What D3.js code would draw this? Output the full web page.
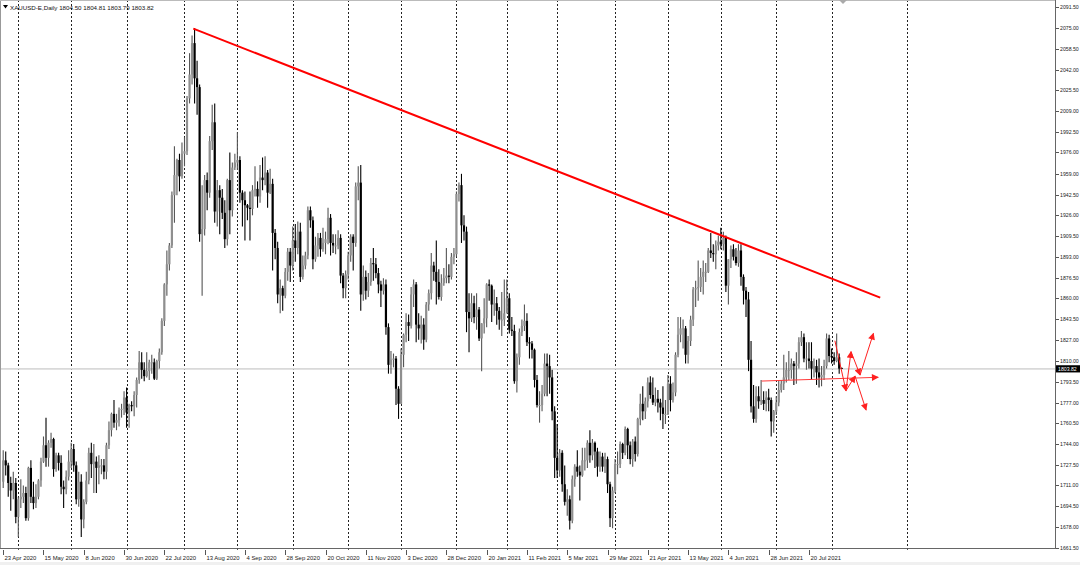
<!DOCTYPE html>
<html><head><meta charset="utf-8">
<script src="https://cdn.jsdelivr.net/npm/d3@7"></script>
<style>
html,body{margin:0;padding:0;background:#fff;}
svg{display:block;}
text{font-family:"Liberation Sans",Arial,sans-serif;}
</style></head><body>
<svg id="chart" width="1080" height="565"></svg>
<script>
// ---------------- data ----------------
const symbolLabel = "XAUUSD-E,Daily";
const headerOHLC = ["1804.50", "1804.81", "1803.79", "1803.82"];
const lastPrice = 1803.82;
const startDate = "2020-04-23";
const holidays = ["2020-12-25", "2021-01-01", "2021-04-02"];

const opens = [
1714,1731,1727,1713,1707,1713,1686,1700,1702,1705,
1685,1725,1702,1697,1702,1715,1730,1743,1733,1745,
1748,1724,1735,1729,1710,1708,1718,1730,1740,1727,
1700,1714,1684,1698,1715,1737,1728,1730,1725,1727,
1727,1722,1743,1755,1768,1761,1763,1771,1772,1781,
1769,1775,1774,1783,1795,1809,1803,1798,1802,1809,
1809,1796,1810,1817,1842,1871,1887,1902,1942,1958,
1970,1957,1975,1977,2019,2038,2063,2035,2028,1911,
1915,1954,1944,1985,2000,1929,1946,1940,1928,1907,
1954,1930,1964,1968,1970,1944,1938,1934,1932,1931,
1946,1947,1941,1956,1954,1960,1944,1951,1912,1900,
1863,1868,1862,1881,1897,1886,1906,1900,1913,1877,
1886,1894,1930,1922,1891,1902,1908,1899,1904,1907,
1924,1904,1902,1902,1908,1878,1868,1879,1894,1909,
1904,1949,1952,1863,1877,1866,1873,1888,1887,1880,
1871,1866,1871,1837,1807,1811,1812,1788,1776,1815,
1831,1841,1838,1863,1871,1839,1836,1839,1827,1855,
1864,1886,1881,1873,1861,1872,1876,1878,1877,1893,
1895,1943,1950,1918,1913,1849,1844,1856,1845,1851,
1828,1840,1844,1871,1870,1855,1856,1850,1843,1843,
1848,1860,1835,1834,1794,1813,1833,1838,1842,1825,
1824,1819,1795,1775,1775,1784,1808,1806,1797,1770,
1733,1723,1737,1712,1698,1700,1683,1716,1726,1722,
1719,1731,1731,1745,1735,1745,1738,1726,1734,1726,
1732,1712,1685,1707,1728,1728,1744,1737,1756,1743,
1732,1746,1736,1764,1776,1770,1778,1793,1783,1777,
1780,1777,1773,1768,1768,1792,1779,1785,1815,1831,
1836,1836,1815,1826,1843,1867,1868,1869,1877,1881,
1881,1898,1896,1895,1902,1905,1903,1908,1870,1891,
1899,1893,1888,1898,1877,1866,1859,1811,1774,1764,
1782,1778,1779,1776,1781,1779,1762,1770,1777,1787,
1792,1797,1803,1803,1808,1806,1808,1825,1829,1812,
1812,1810,1804,1806,1801,1797,1799,1806,1828,1814,
1813,1810,1813,1804.50];

const highs = [
1739,1738,1729,1718,1722,1717,1702,1716,1711,1710,
1726,1731,1714,1712,1716,1733,1750,1765,1747,1753,
1749,1737,1737,1735,1715,1723,1739,1745,1744,1730,
1722,1720,1700,1722,1741,1745,1744,1734,1735,1732,
1732,1745,1762,1769,1779,1768,1773,1776,1786,1789,
1776,1778,1786,1797,1818,1817,1809,1817,1811,1815,
1812,1811,1820,1844,1872,1898,1904,1945,1981,1971,
1975,1984,1988,2021,2055,2069,2075,2049,2030,1950,
1958,1960,1989,2014,2015,1954,1950,1947,1938,1955,
1976,1968,1975,1992,1973,1946,1945,1935,1945,1950,
1965,1953,1966,1972,1973,1962,1963,1955,1915,1905,
1875,1870,1884,1900,1900,1917,1919,1921,1920,1894,
1897,1933,1933,1925,1909,1912,1912,1916,1913,1932,
1927,1911,1911,1914,1911,1880,1882,1897,1911,1911,
1952,1965,1966,1886,1882,1880,1892,1900,1892,1884,
1874,1876,1875,1840,1818,1816,1814,1790,1820,1832,
1848,1847,1869,1875,1873,1848,1846,1844,1857,1867,
1896,1889,1906,1883,1879,1884,1900,1887,1896,1900,
1945,1952,1959,1926,1917,1864,1864,1862,1864,1853,
1840,1860,1872,1875,1871,1867,1861,1853,1865,1875,
1875,1864,1845,1839,1816,1836,1843,1855,1848,1829,
1826,1820,1799,1786,1791,1816,1816,1815,1803,1774,
1760,1740,1739,1727,1708,1703,1719,1728,1739,1727,
1741,1741,1747,1755,1748,1746,1741,1738,1737,1737,
1734,1714,1710,1732,1738,1746,1745,1758,1757,1746,
1748,1750,1765,1784,1790,1781,1797,1798,1797,1789,
1787,1780,1790,1779,1799,1798,1793,1817,1845,1845,
1843,1838,1830,1846,1869,1874,1890,1884,1890,1888,
1900,1912,1903,1906,1910,1916,1913,1910,1891,1902,
1903,1900,1903,1903,1879,1869,1865,1826,1791,1790,
1790,1795,1786,1786,1788,1781,1771,1782,1795,1795,
1815,1809,1818,1812,1810,1817,1829,1834,1832,1825,
1825,1825,1812,1811,1812,1806,1811,1832,1831,1820,
1817,1832,1816,1804.81];

const lows = [
1709,1719,1702,1691,1700,1681,1670,1693,1697,1683,
1683,1697,1692,1693,1700,1710,1729,1726,1726,1741,
1718,1722,1723,1704,1693,1704,1715,1725,1722,1696,
1694,1670,1677,1696,1712,1717,1705,1705,1712,1720,
1716,1716,1740,1750,1757,1755,1758,1765,1767,1757,
1757,1770,1766,1773,1792,1796,1794,1797,1795,1800,
1795,1795,1804,1815,1838,1862,1882,1900,1920,1942,
1945,1955,1965,1974,2015,2030,2015,2006,1905,1862,
1910,1930,1940,1978,1920,1917,1911,1923,1900,1902,
1911,1925,1962,1962,1936,1917,1906,1922,1906,1926,
1941,1932,1936,1946,1950,1932,1943,1882,1891,1856,
1848,1850,1860,1874,1873,1882,1889,1895,1873,1875,
1883,1891,1916,1883,1889,1893,1893,1897,1895,1903,
1894,1896,1895,1899,1872,1860,1860,1875,1889,1882,
1901,1938,1850,1858,1859,1861,1870,1874,1876,1864,
1853,1863,1831,1800,1800,1805,1775,1764,1776,1805,
1825,1826,1836,1853,1825,1827,1824,1819,1825,1850,
1859,1874,1855,1859,1858,1870,1872,1872,1875,1887,
1893,1937,1904,1906,1833,1817,1841,1840,1835,1826,
1802,1832,1837,1858,1841,1846,1839,1835,1830,1838,
1848,1832,1830,1792,1785,1807,1830,1834,1822,1812,
1812,1789,1773,1761,1770,1782,1782,1784,1763,1717,
1717,1718,1706,1695,1687,1676,1681,1710,1718,1699,
1718,1723,1725,1729,1731,1725,1718,1722,1722,1721,
1705,1678,1677,1705,1720,1725,1732,1735,1732,1728,
1726,1730,1734,1759,1763,1764,1773,1780,1775,1774,
1769,1763,1756,1760,1767,1770,1777,1782,1813,1825,
1820,1808,1808,1822,1838,1853,1858,1865,1863,1873,
1880,1892,1889,1883,1898,1899,1898,1865,1855,1884,
1890,1886,1885,1870,1855,1845,1802,1769,1761,1761,
1772,1775,1771,1770,1770,1750,1753,1767,1774,1785,
1787,1793,1795,1796,1791,1792,1804,1822,1809,1803,
1804,1795,1797,1791,1789,1790,1795,1804,1809,1808,
1807,1809,1800,1803.79];

const closes = [
1731,1727,1713,1707,1713,1686,1700,1702,1705,1685,
1725,1702,1697,1702,1715,1730,1743,1733,1745,1748,
1724,1735,1729,1710,1708,1718,1730,1740,1727,1700,
1714,1684,1698,1715,1737,1728,1730,1725,1727,1727,
1722,1743,1755,1768,1761,1763,1771,1772,1781,1769,
1775,1774,1783,1795,1809,1803,1798,1802,1809,1809,
1796,1810,1817,1842,1871,1887,1902,1942,1958,1970,
1957,1975,1977,2019,2038,2063,2035,2028,1911,1915,
1954,1944,1985,2000,1929,1946,1940,1928,1907,1954,
1930,1964,1968,1970,1944,1938,1934,1932,1931,1946,
1947,1941,1956,1954,1960,1944,1951,1912,1900,1863,
1868,1862,1881,1897,1886,1906,1900,1913,1877,1886,
1894,1930,1922,1891,1902,1908,1899,1904,1907,1924,
1904,1902,1902,1908,1878,1868,1879,1894,1909,1904,
1949,1952,1863,1877,1866,1873,1888,1887,1880,1871,
1866,1871,1837,1807,1811,1812,1788,1776,1815,1831,
1841,1838,1863,1871,1839,1836,1839,1827,1855,1864,
1886,1881,1873,1861,1872,1876,1878,1877,1893,1895,
1943,1950,1918,1913,1849,1844,1856,1845,1851,1828,
1840,1844,1871,1870,1855,1856,1850,1843,1843,1848,
1860,1835,1834,1794,1813,1833,1838,1842,1825,1824,
1819,1795,1775,1775,1784,1808,1806,1797,1770,1733,
1723,1737,1712,1698,1700,1683,1716,1726,1722,1719,
1731,1731,1745,1735,1745,1738,1726,1734,1726,1732,
1712,1685,1707,1728,1728,1744,1737,1756,1743,1732,
1746,1736,1764,1776,1770,1778,1793,1783,1777,1780,
1777,1773,1768,1768,1792,1779,1785,1815,1831,1836,
1836,1815,1826,1843,1867,1868,1869,1877,1881,1881,
1898,1896,1895,1902,1905,1903,1908,1870,1891,1899,
1893,1888,1898,1877,1866,1859,1811,1774,1764,1782,
1778,1779,1776,1781,1779,1762,1770,1777,1787,1792,
1797,1803,1803,1808,1806,1808,1825,1829,1812,1812,
1810,1804,1806,1801,1797,1799,1806,1828,1814,1813,
1810,1813,1804,1803.82];

const dateTickLabels = ["23 Apr 2020","15 May 2020","8 Jun 2020","30 Jun 2020","22 Jul 2020",
  "13 Aug 2020","4 Sep 2020","28 Sep 2020","20 Oct 2020","11 Nov 2020","3 Dec 2020",
  "28 Dec 2020","20 Jan 2021","11 Feb 2021","5 Mar 2021","29 Mar 2021","21 Apr 2021",
  "13 May 2021","4 Jun 2021","28 Jun 2021","20 Jul 2021"];

const priceTicks = [2091.50,2075.00,2058.50,2042.00,2025.50,2009.00,1992.50,1976.00,1959.00,
  1942.50,1926.00,1909.50,1893.00,1876.50,1860.00,1843.50,1827.00,1810.00,1793.50,1777.00,
  1760.50,1744.00,1727.50,1711.00,1694.50,1678.00,1661.50];

// grid line for the next (future) month, in bar units
const futureGridBars = [359];

// drawn objects, anchored in [bar index, price]
const trendLine = [[75.5, 2074.5], [348.3, 1860.5]];
const levelArrow = [[301.2, 1794.1], [347.5, 1797.1]];
const scenarioArrows = [
  [[330.3, 1826.2], [334.7, 1786.4]],
  [[334.7, 1786.4], [336.7, 1817.5]],
  [[336.7, 1817.5], [340.3, 1798.9]],
  [[340.3, 1798.9], [345.6, 1832.1]],
  [[334.7, 1786.4], [338.3, 1798.1]],
  [[338.3, 1798.1], [342.7, 1771.0]]
];

// ---------------- build ----------------
const parse = d3.timeParse("%Y-%m-%d");
const fmtISO = d3.timeFormat("%Y-%m-%d");
const fmtLabel = d3.timeFormat("%-d %b %Y");
const dates = [];
let cur = parse(startDate);
while (dates.length < closes.length) {
  const wd = cur.getDay();
  if (wd !== 0 && wd !== 6 && !holidays.includes(fmtISO(cur))) dates.push(cur);
  cur = d3.timeDay.offset(cur, 1);
}
const bars = dates.map((dt, i) => ({i, date: dt, o: opens[i], h: highs[i], l: lows[i], c: closes[i]}));

const svg = d3.select("#chart");
const plotRight = 1055, plotBottom = 548;

const x = d3.scaleLinear().domain([0, bars.length - 1]).range([3.2, 841.7]);
const y = d3.scaleLinear().domain([1661.5, 2091.5]).range([547.7, 7.3]);

svg.append("rect").attr("x", 0).attr("y", 0).attr("width", 1080).attr("height", 565).attr("fill", "#fff");
svg.append("rect").attr("x", 0).attr("y", 562).attr("width", 1080).attr("height", 3).attr("fill", "#f0f0f0");

// month grid
const monthStarts = bars.filter((b, i) => i > 0 && b.date.getMonth() !== bars[i - 1].date.getMonth()).map(b => b.i)
  .concat(futureGridBars);
svg.append("g").selectAll("line").data(monthStarts).join("line")
  .attr("x1", d => Math.round(x(d)) + 0.5).attr("x2", d => Math.round(x(d)) + 0.5)
  .attr("y1", 0).attr("y2", plotBottom)
  .attr("stroke", "#222").attr("stroke-width", 1).attr("stroke-dasharray", "2,2");

// bid line
svg.append("line").attr("x1", 0).attr("x2", plotRight)
  .attr("y1", y(lastPrice)).attr("y2", y(lastPrice))
  .attr("stroke", "#d9d9d9").attr("stroke-width", 1.6);

// candles
const g = svg.append("g");
g.selectAll("line.wick").data(bars).join("line").attr("class", "wick")
  .attr("x1", d => x(d.i)).attr("x2", d => x(d.i))
  .attr("y1", d => y(d.h)).attr("y2", d => y(d.l))
  .attr("stroke", d => d.c >= d.o ? "#555" : "#000").attr("stroke-width", 1.1);
g.selectAll("rect.body").data(bars).join("rect").attr("class", "body")
  .attr("x", d => x(d.i) - 1.1).attr("width", 2.2)
  .attr("y", d => y(Math.max(d.o, d.c)))
  .attr("height", d => Math.max(1, Math.abs(y(d.o) - y(d.c))))
  .attr("fill", d => d.c >= d.o ? "#8f8f8f" : "#000");

// arrow marker
const defs = svg.append("defs");
defs.append("marker").attr("id", "arr").attr("viewBox", "0 0 10 10")
  .attr("refX", 9).attr("refY", 5).attr("markerWidth", 8).attr("markerHeight", 7)
  .attr("markerUnits", "userSpaceOnUse").attr("orient", "auto")
  .append("path").attr("d", "M0,0 L10,5 L0,10 Z").attr("fill", "#ff2020");

// trend line
svg.append("line")
  .attr("x1", x(trendLine[0][0])).attr("y1", y(trendLine[0][1]))
  .attr("x2", x(trendLine[1][0])).attr("y2", y(trendLine[1][1]))
  .attr("stroke", "#ff0000").attr("stroke-width", 2);

// level arrow
svg.append("line")
  .attr("x1", x(levelArrow[0][0])).attr("y1", y(levelArrow[0][1]))
  .attr("x2", x(levelArrow[1][0])).attr("y2", y(levelArrow[1][1]))
  .attr("stroke", "#ff3a3a").attr("stroke-width", 1).attr("marker-end", "url(#arr)");

svg.append("g").selectAll("line").data(scenarioArrows).join("line")
  .attr("x1", d => x(d[0][0])).attr("y1", d => y(d[0][1]))
  .attr("x2", d => x(d[1][0])).attr("y2", d => y(d[1][1]))
  .attr("stroke", "#ff2020").attr("stroke-width", 1).attr("marker-end", "url(#arr)");

// frame
svg.append("line").attr("x1", 0.5).attr("x2", 0.5).attr("y1", 0).attr("y2", plotBottom).attr("stroke", "#999");
svg.append("line").attr("x1", 0).attr("x2", plotRight).attr("y1", 0.5).attr("y2", 0.5).attr("stroke", "#bbb");
svg.append("line").attr("x1", plotRight + 0.5).attr("x2", plotRight + 0.5).attr("y1", 0).attr("y2", plotBottom + 1).attr("stroke", "#666");
svg.append("line").attr("x1", 0).attr("x2", plotRight + 1).attr("y1", plotBottom + 0.5).attr("y2", plotBottom + 0.5).attr("stroke", "#666");

// shift marker
svg.append("path").attr("d", "M839,0 L847,0 L843,4 Z").attr("fill", "#aaa");

// price axis
const pa = svg.append("g");
priceTicks.forEach(v => {
  const yy = Math.round(y(v)) + 0.5;
  pa.append("line").attr("x1", plotRight + 1).attr("x2", plotRight + 4).attr("y1", yy).attr("y2", yy).attr("stroke", "#555");
  pa.append("text").attr("x", 1060).attr("y", yy + 1.9).attr("font-size", 5.2).attr("fill", "#222").text(v.toFixed(2));
});
// current price box
pa.append("rect").attr("x", plotRight + 1).attr("y", y(lastPrice) - 3.6).attr("width", 25).attr("height", 7.2).attr("fill", "#000");
pa.append("text").attr("x", 1058).attr("y", y(lastPrice) + 1.9).attr("font-size", 5.2).attr("fill", "#fff").text(lastPrice.toFixed(2));

// date axis
const da = svg.append("g");
monthStarts.forEach(i => {
  const xx = Math.round(x(i)) + 0.5;
  da.append("line").attr("x1", xx).attr("x2", xx).attr("y1", plotBottom).attr("y2", plotBottom + 2).attr("stroke", "#555");
});
dateTickLabels.forEach(lbl => {
  const idx = bars.findIndex(b => fmtLabel(b.date) === lbl);
  if (idx < 0) return;
  const xx = Math.round(x(idx)) + 0.5;
  da.append("line").attr("x1", xx).attr("x2", xx).attr("y1", plotBottom + 2).attr("y2", plotBottom + 7).attr("stroke", "#555");
  da.append("text").attr("x", xx + 1).attr("y", 559.8).attr("font-size", 5.9).attr("fill", "#222").text(lbl);
});

// header
svg.append("path").attr("d", "M3,5 L8,5 L5.5,8.5 Z").attr("fill", "#000");
svg.append("text").attr("x", 10).attr("y", 9.8).attr("font-size", 6.2).attr("fill", "#111")
  .text(symbolLabel + "  " + headerOHLC.join(" "));
</script>
</body></html>
